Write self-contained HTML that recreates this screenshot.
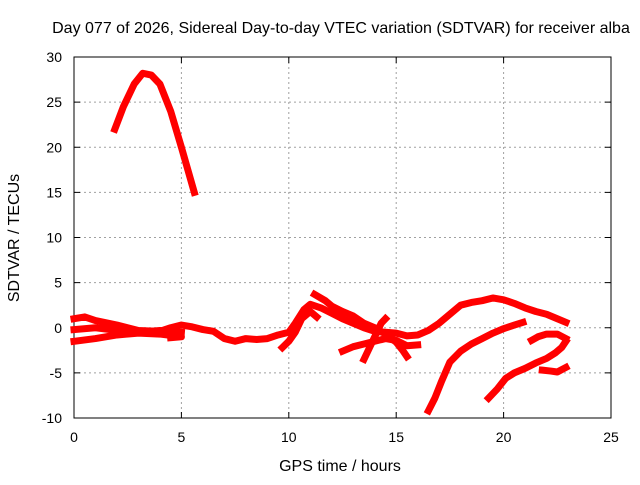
<!DOCTYPE html>
<html><head><meta charset="utf-8"><style>
body{margin:0;background:#fff}
svg text{font-family:"Liberation Sans",sans-serif;font-size:14px;fill:#000}
svg text.big{font-size:16px}
</style></head><body>
<svg id="c" width="640" height="480"></svg>
<script>
const xTicks=[0,5,10,15,20,25];
const yTicks=[-10,-5,0,5,10,15,20,25,30];
const seriesArc=[[1.9,22],[2.3,24.5],[2.8,27],[3.2,28.2],[3.6,28],[4.0,27],[4.5,24],[5.0,20],[5.3,17.5],[5.6,15]];
const seriesBandUpper=[[0,1],[0.5,1.2],[1,0.8],[2,0.3],[3,-0.3],[4,-0.4],[4.5,0],[5,0.3],[5.5,0.1],[6,-0.2],[6.5,-0.4],[7,-1.2],[7.5,-1.5],[8,-1.2],[8.5,-1.3],[9,-1.2],[9.5,-0.8],[10,-0.5],[10.3,0.5],[10.7,2],[11,2.6],[11.5,2.2],[12,1.6],[12.5,1],[13,0.5],[13.5,0],[14,-0.4],[14.5,-0.5],[15,-0.6],[15.5,-0.9],[16,-0.8],[16.5,-0.3],[17,0.5],[17.5,1.5],[18,2.5],[18.5,2.8],[19,3],[19.5,3.3],[20,3.1],[20.5,2.7],[21,2.2],[21.5,1.8],[22,1.5],[22.5,1],[22.9,0.6]];
const seriesBandLower=[[0,-1.5],[1,-1.2],[2,-0.8],[3,-0.6],[4,-0.7],[5,-1],[4.5,-1.1]];
const seriesMid1=[[0,-0.2],[1,0],[2,-0.3],[3,-0.5],[4,-0.3],[5,-0.5]];
const seriesHook=[[9.7,-2.2],[10,-1.5],[10.3,-0.5],[10.6,1],[11,1.8],[11.3,1.2]];
const seriesMid2=[[11.2,3.7],[11.7,3],[12,2.4],[12.5,1.8],[13,1.3],[13.5,0.5],[14,0],[14.5,-0.7],[15,-1.6],[15.3,-2.5],[15.5,-3.2]];
const seriesMid3=[[12.5,-2.6],[13,-2.1],[13.5,-1.8],[14,-1.5],[14.5,-1.2],[15,-1.4],[15.5,-2],[16,-1.9]];
const seriesMid4=[[13.5,-3.5],[13.8,-2],[14,-1],[14.3,0.5],[14.5,1]];
const seriesRise1=[[16.5,-9.2],[16.8,-7.8],[17.1,-6],[17.5,-3.8],[18,-2.6],[18.5,-1.8],[19,-1.2],[19.5,-0.6],[20,-0.1],[20.5,0.3],[20.9,0.6]];
const seriesRise2=[[19.3,-7.8],[19.7,-6.8],[20.1,-5.6],[20.5,-5],[21,-4.5],[21.5,-3.9],[22,-3.4],[22.4,-2.8],[22.7,-2.2],[22.9,-1.5]];
const seriesHookR=[[21.3,-1.4],[21.6,-1],[22,-0.7],[22.5,-0.7],[22.9,-1.2]];
const seriesTail=[[21.8,-4.7],[22.2,-4.8],[22.5,-4.9],[22.9,-4.4]];
const allSeries=[seriesArc,seriesBandUpper,seriesBandLower,seriesMid1,seriesHook,seriesMid2,seriesMid3,seriesMid4,seriesRise1,seriesRise2,seriesHookR,seriesTail];

const L=74,R=611,T=57,B=418;
const xs=v=>L+(v-0)/25*(R-L);
const ys=v=>B-(v+10)/40*(B-T);
const NS="http://www.w3.org/2000/svg";
const svg=document.getElementById('c');
function mk(t,a,p){const e=document.createElementNS(NS,t);for(const k in a)e.setAttribute(k,a[k]);(p||svg).appendChild(e);return e;}

xTicks.forEach(v=>{
  if(v>0&&v<25){const g=mk('line',{x1:xs(v),x2:xs(v),y1:T,y2:B,stroke:'#a0a0a0','stroke-dasharray':'2,3'});
  
  }
  const t=mk('text',{x:xs(v),y:B+24,'text-anchor':'middle'});t.textContent=v;
  
  
});
yTicks.forEach(v=>{
  if(v>-10&&v<30){const g=mk('line',{x1:L,x2:R,y1:ys(v),y2:ys(v),stroke:'#a0a0a0','stroke-dasharray':'2,3'});
  
  }
  const t=mk('text',{x:L-12,y:ys(v)+5,'text-anchor':'end'});t.textContent=v;
  
  
  mk('line',{x1:L,x2:L+6,y1:ys(v),y2:ys(v),stroke:'#000'});
  mk('line',{x1:R,x2:R-6,y1:ys(v),y2:ys(v),stroke:'#000'});
});
xTicks.forEach(v=>{mk('line',{x1:xs(v),x2:xs(v),y1:B,y2:B-6,stroke:'#000'});mk('line',{x1:xs(v),x2:xs(v),y1:T,y2:T+6,stroke:'#000'});});
const fr=mk('rect',{x:L,y:T,width:R-L,height:B-T,fill:'none',stroke:'#000'});



allSeries.forEach(s=>{
  const p=mk('polyline',{points:s.map(d=>xs(d[0])+','+ys(d[1])).join(' '),fill:'none',stroke:'#ff0000','stroke-width':7,'stroke-linejoin':'round','stroke-linecap':'square'});
  
  
});

const title=mk('text',{x:341,y:33,'text-anchor':'middle','class':'big'});title.textContent='Day 077 of 2026, Sidereal Day-to-day VTEC variation (SDTVAR) for receiver alba';


const xl=mk('text',{x:340,y:471,'text-anchor':'middle','class':'big'});xl.textContent='GPS time / hours';


const yl=mk('text',{x:19,y:238,'text-anchor':'middle','class':'big',transform:'rotate(-90 19 238)'});yl.textContent='SDTVAR / TECUs';


</script>
</body></html>
